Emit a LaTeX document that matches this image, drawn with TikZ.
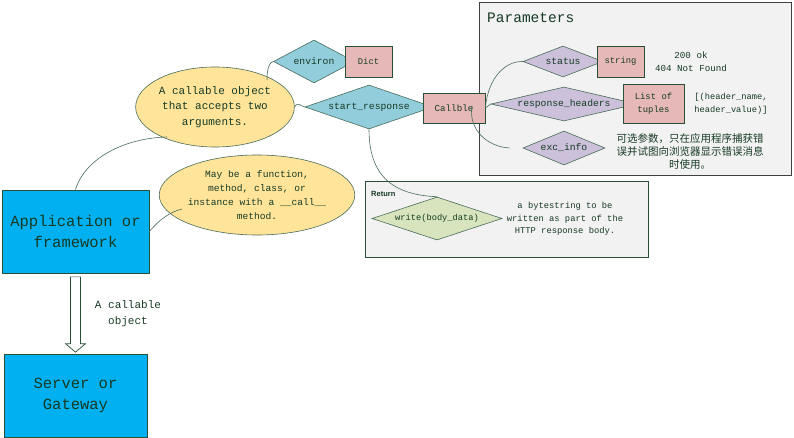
\documentclass[tikz,border=0pt]{standalone}
\usepackage{fontspec}
\setmainfont{Liberation Mono}
\newfontfamily\cjk{Noto Sans CJK SC}
\newfontfamily\sansb{Liberation Sans}
\usetikzlibrary{shapes.geometric,calc}
\definecolor{txt}{RGB}{22,58,36}
\definecolor{edge}{RGB}{72,108,90}
\definecolor{boxline}{RGB}{40,80,55}
\definecolor{teal}{RGB}{146,205,220}
\definecolor{lav}{RGB}{204,192,218}
\definecolor{pinkf}{RGB}{230,185,184}
\definecolor{yell}{RGB}{255,228,153}
\definecolor{olive}{RGB}{215,228,189}
\definecolor{panel}{RGB}{242,242,242}
\definecolor{blue}{RGB}{0,176,240}
\tikzset{
  dia/.style n args={3}{diamond, draw=edge, line width=0.6pt, inner sep=0pt, text=txt, font=\fontsize{9.7}{11}\selectfont,
     minimum width=#1pt, minimum height=#2pt, aspect=#3},
  pbox/.style={rectangle, draw=boxline, line width=0.7pt, fill=pinkf, inner sep=0pt, text=txt, align=center, font=\fontsize{8.8}{12}\selectfont},
  ell/.style={ellipse, draw=edge, line width=0.6pt, fill=yell, inner sep=0pt, text=txt, align=center},
  bigbox/.style={rectangle, draw=boxline, line width=0.7pt, fill=blue, inner sep=0pt, text=txt, align=center, font=\fontsize{15.5}{21.5}\selectfont},
  note/.style={text=txt, align=center, inner sep=0pt},
  link/.style={draw=edge, line width=0.6pt},
}
\begin{document}
\begin{tikzpicture}[x=1pt,y=-1pt]
\useasboundingbox (0,0) rectangle (794,438);
% panels
\draw[fill=panel, draw=black!75, line width=0.9pt] (479,2) rectangle (791,175);
\node[anchor=base west, inner sep=0pt, text=txt, font=\fontsize{14.5}{16}\selectfont] (ptitle) at (487,23) {Parameters};
\draw[fill=panel, draw=boxline, line width=0.7pt] (365,181) rectangle (648,257);
\node[anchor=base west, inner sep=0pt, text=txt, font=\sansb\bfseries\fontsize{7.5}{9}\selectfont] (rtitle) at (371,197) {Return};

% left blocks
\node[bigbox, minimum width=147pt, minimum height=83pt] (app) at (75.5,231.5) {Application or\\framework};
\node[bigbox, minimum width=143pt, minimum height=83pt] (server) at (75.5,395.5) {Server or\\Gateway};
\node[note, font=\fontsize{11}{16}\selectfont] (calllbl) at (128,314) {A callable\\object};

% hollow arrow
\draw[draw=boxline, fill=white, line width=0.7pt]
  ($(app.south)+(-5,3.5)$) -- ($(app.south)+(5,3.5)$) -- ($(server.north)+(5,-10)$)
  -- ($(server.north)+(10,-10)$) -- ($(server.north)+(0,-1.5)$) -- ($(server.north)+(-10,-10)$)
  -- ($(server.north)+(-5,-10)$) -- cycle;

% ellipses
\node[ell, minimum width=146pt, minimum height=80pt, font=\fontsize{11}{15.7}\selectfont] (e1) at (215,107) {A callable object\\that accepts two\\arguments.};
\node[ell, minimum width=160pt, minimum height=80pt, font=\fontsize{9.6}{14.2}\selectfont] (e2) at (257,195) {May be a function,\\method, class, or\\instance with a \_\_call\_\_\\method.};

% environ / start_response
\node[dia={81}{43}{1.884}, fill=teal] (environ) at (314,61.5) {environ};
\node[pbox, minimum width=47pt, minimum height=31pt] (dict) at (368.5,61.5) {Dict};
\node[dia={128}{44}{2.909}, fill=teal] (sr) at (369,107) {start\_response};
\node[pbox, minimum width=62pt, minimum height=30pt, font=\fontsize{9.2}{11}\selectfont] (callble) at (454,108) {Callble};

% parameters
\node[dia={80}{31}{2.581}, fill=lav] (status) at (563,61.5) {status};
\node[pbox, minimum width=47pt, minimum height=31pt] (string) at (620.5,61.5) {string};
\node[note, font=\fontsize{9.2}{13}\selectfont] (codes) at (691,61.5) {200 ok\\404 Not Found};
\node[dia={146}{34}{4.294}, fill=lav] (rh) at (564,104) {response\_headers};
\node[pbox, minimum width=61pt, minimum height=39pt, font=\fontsize{8.9}{13}\selectfont] (tuples) at (653.5,103.5) {List of\\tuples};
\node[note, font=\fontsize{8.7}{12.5}\selectfont] (hv) at (731,104) {[(header\_name,\\header\_value)]};
\node[dia={82}{34}{2.412}, fill=lav] (exc) at (564,148) {exc\_info};
\node[note, font=\cjk\fontsize{10.5}{13}\selectfont] (cn) at (690,151) {可选参数，只在应用程序捕获错\\误并试图向浏览器显示错误消息\\时使用。};

% return
\node[dia={130}{43}{3.023}, fill=olive, font=\fontsize{8.7}{11}\selectfont] (write) at (437,218.5) {write(body\_data)};
\node[note, font=\fontsize{8.8}{12.5}\selectfont] (bytes) at (565,219) {a bytestring to be\\written as part of the\\HTTP response body.};

% connectors
\coordinate (e1b) at (167,137);
\coordinate (e2l) at (182,209);
\coordinate (e1t) at (267,80);
\coordinate (cbin) at (472,106);
\draw[link] (app.north) .. controls (85,158) and (125,138) .. (e1b);
\draw[link] (app.east) .. controls (160,219) and (170,212) .. (e2l);
\draw[link] (e1t) .. controls (267,67) and (270,62) .. (environ.west);
\draw[link] (e1.east) .. controls (298,101) and (300,106) .. (sr.west);
\draw[link] (sr.south) .. controls (369,178) and (395,195) .. (write.north);
\draw[link] (callble.east) .. controls (488,78) and (505,61) .. (status.west);
\draw[link] (callble.east) -- (rh.west);
\draw[link] (cbin) .. controls (468,130) and (488,147) .. ([xshift=-13pt]exc.west);
\end{tikzpicture}
\end{document}
